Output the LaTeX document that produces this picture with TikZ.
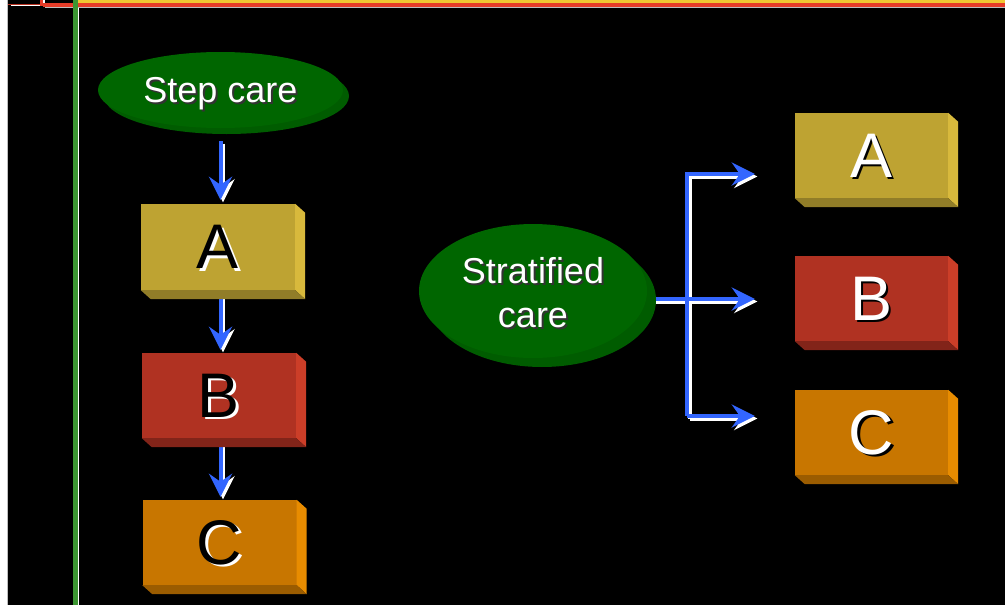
\documentclass[tikz,border=0pt]{standalone}
\usepackage{fontspec}
\setmainfont{Liberation Sans}
\usetikzlibrary{shapes.geometric,arrows.meta,shadows}
\definecolor{afront}{RGB}{190,163,50}
\definecolor{aside}{RGB}{216,185,60}
\definecolor{abot}{RGB}{145,125,40}
\definecolor{bfront}{RGB}{176,50,34}
\definecolor{bside}{RGB}{204,62,40}
\definecolor{bbot}{RGB}{130,36,25}
\definecolor{cfront}{RGB}{200,118,0}
\definecolor{cside}{RGB}{232,140,0}
\definecolor{cbot}{RGB}{155,92,0}
\definecolor{ellmain}{RGB}{0,102,0}
\definecolor{ellrim}{RGB}{0,92,0}
\definecolor{arrblue}{RGB}{51,102,255}
\definecolor{topyel}{RGB}{240,200,50}
\definecolor{topred}{RGB}{230,60,40}
\definecolor{vgreen}{RGB}{60,150,50}
\definecolor{lgray}{RGB}{190,190,190}
\newcommand\shtxt[4]{\makebox[0pt][l]{\hspace*{#4}\raisebox{-#4}[0pt][0pt]{\textcolor{#2}{#1}}}\textcolor{#3}{#1}}
\newcommand\bevel[3]{%
  \fill[#2] (#1.north east) -- ++(10,9) -- ([xshift=10pt,yshift=-9pt]#1.south east) -- (#1.south east) -- cycle;
  \fill[#3] (#1.south west) -- ++(10,9) -- ([xshift=10pt,yshift=-9pt]#1.south east) -- (#1.south east) -- cycle;}
\tikzset{
  boxnode/.style={rectangle, minimum width=154pt, minimum height=86pt, inner sep=0pt, font=\fontsize{63}{70}\selectfont},
  ellnode/.style={ellipse, fill=ellmain, inner sep=0pt, font=\fontsize{36}{44}\selectfont,
    drop shadow={shadow xshift=#1, shadow yshift=-#1, fill=ellrim, opacity=1}},
  arrw/.style={line width=4pt, -{Stealth[length=23pt,width=23pt,inset=8pt]}},
  blueset/.style={draw=arrblue},
  whiteset/.style={draw=white, transform canvas={xshift=2.5pt,yshift=-2.5pt}}
}
\newcommand\connectors[1]{%
  \draw[arrw,#1,shorten <=13pt,shorten >=4pt] (SE.south) -- (SE.south |- LA.north);
  \draw[arrw,#1,shorten >=3pt] (SE.south |- LA.south) -- (SE.south |- LB.north);
  \draw[arrw,#1,shorten >=3pt] (SE.south |- LB.south) -- (SE.south |- LC.north);
  \draw[arrw,#1,shorten >=40pt] (SC.east |- tB) -- (RB.west |- tB);
  \draw[arrw,#1,shorten >=40pt] (jx |- tC) -- (jx |- tA) -- (RA.west |- tA);
  \draw[arrw,#1,shorten >=40pt] (jx |- tC) -- (RC.west |- tC);}
\begin{document}
\begin{tikzpicture}[x=1pt,y=-1pt]
\useasboundingbox (0,0) rectangle (1005,605);
% background and frame lines
\fill[black] (0,0) rectangle (1005,605);
\fill[white] (0,0) rectangle (7,605);
\fill[lgray] (7,0) rectangle (8,605);
\fill[topyel] (78,0) rectangle (1005,2.7);
\fill[topred] (43,2.7) rectangle (1005,7.3);
\fill[lgray] (45,7.3) rectangle (1005,8.2);
\fill[topred!80!black] (8,4) rectangle (42,5.2);
\fill[white] (11,5.2) rectangle (43,6.2);
\fill[topred] (40,0) rectangle (43,6);
\fill[white] (43,0) rectangle (45,2.7);
\fill[vgreen] (73.3,0) rectangle (77.5,605);
\fill[white] (77.5,8.2) rectangle (78.7,605);
% junction coordinates for right connectors
\coordinate (jx) at (687,299);
\coordinate (tA) at (755,174);
\coordinate (tB) at (755,299);
\coordinate (tC) at (755,416);
% boxes (left)
\node[boxnode, fill=afront] (LA) at (218,247) {\shtxt{A}{white}{black}{2.5pt}};
\node[boxnode, fill=bfront, minimum height=85pt] (LB) at (219,395.5) {\shtxt{B}{white}{black}{2.5pt}};
\node[boxnode, fill=cfront, minimum height=85pt] (LC) at (219.5,542.5) {\shtxt{C}{white}{black}{2.5pt}};
% boxes (right)
\node[boxnode, fill=afront, minimum width=153pt, minimum height=85pt] (RA) at (871.5,155.5) {\shtxt{A}{black}{white}{2.5pt}};
\node[boxnode, fill=bfront, minimum width=153pt, minimum height=85pt] (RB) at (871.5,298.5) {\shtxt{B}{black}{white}{2.5pt}};
\node[boxnode, fill=cfront, minimum width=153pt, minimum height=85pt] (RC) at (871.5,432.5) {\shtxt{C}{black}{white}{2.5pt}};
% ellipse anchors for connectors (shapes drawn later, over connector starts)
\path (220.5,90) coordinate (SEc) (533,291) coordinate (SCc);
\node[ellipse, minimum width=245pt, minimum height=76pt, inner sep=0pt] (SE) at (SEc) {};
\node[ellipse, minimum width=228pt, minimum height=134pt, inner sep=0pt] (SC) at (SCc) {};
% connectors: shadow pass then blue pass
\connectors{whiteset}
\connectors{blueset}
% bevels over connector ends
\bevel{LA}{aside}{abot}
\bevel{LB}{bside}{bbot}
\bevel{LC}{cside}{cbot}
\bevel{RA}{aside}{abot}
\bevel{RB}{bside}{bbot}
\bevel{RC}{cside}{cbot}
% ellipses
\node[ellnode=6pt, minimum width=245pt, minimum height=76pt, text depth=0pt] (SEd) at (SEc) {\shtxt{Step care}{black!80}{white}{2pt}};
\node[ellnode=9pt, minimum width=228pt, minimum height=134pt] (SCd) at (SCc) {\raisebox{-6pt}[\height][\depth]{\begin{tabular}{@{}c@{}}\shtxt{Stratified}{black!80}{white}{2pt}\\\shtxt{care}{black!80}{white}{2pt}\end{tabular}}};
\end{tikzpicture}
\end{document}
